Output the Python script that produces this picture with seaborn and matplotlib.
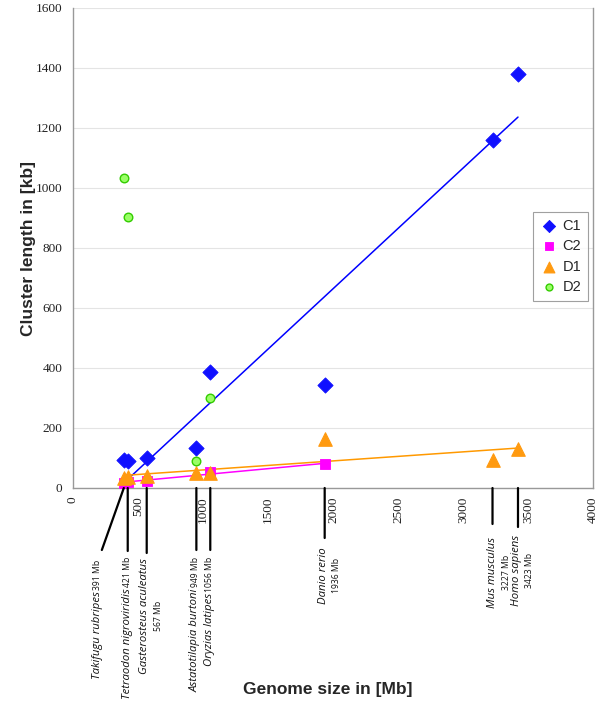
import numpy as np
import pandas as pd
import seaborn as sns
import matplotlib.pyplot as plt

# Data
species = ["Takifugu rubripes", "Tetraodon nigroviridis", "Gasterosteus aculeatus",
           "Astatotilapia burtoni", "Oryzias latipes", "Danio rerio",
           "Mus musculus", "Homo sapiens"]
genome = [391, 421, 567, 949, 1056, 1936, 3227, 3423]
size_labels = ["391 Mb", "421 Mb", "567 Mb", "949 Mb", "1056 Mb", "1936 Mb", "3227 Mb", "3423 Mb"]

c1_x = [391, 421, 567, 949, 1056, 1936, 3227, 3423]
c1_y = [95, 90, 100, 135, 388, 343, 1160, 1380]
c2_x = [391, 421, 567, 1056, 1936]
c2_y = [18, 20, 25, 52, 80]
d1_x = [391, 421, 567, 949, 1056, 1936, 3227, 3423]
d1_y = [35, 38, 40, 50, 50, 163, 95, 130]
d2_x = [391, 421, 949, 1056]
d2_y = [1035, 905, 90, 300]

sns.set_style("white")
plt.rcParams["font.family"] = ["Liberation Sans", "DejaVu Sans"]

fig = plt.figure(figsize=(6, 7.05), dpi=100)
ax = fig.add_axes([73 / 600, 1 - 488 / 705, 520 / 600, 480 / 705])

# trend lines
sns.regplot(x=c1_x, y=c1_y, ci=None, scatter=False, ax=ax, color="#0000FF", line_kws=dict(lw=1.1))
sns.regplot(x=c2_x, y=c2_y, ci=None, scatter=False, ax=ax, color="#FF00FF", line_kws=dict(lw=1.1))
sns.regplot(x=d1_x, y=d1_y, ci=None, scatter=False, ax=ax, color="#FF9900", line_kws=dict(lw=1.1))

# points
sns.scatterplot(x=c1_x, y=c1_y, ax=ax, marker="D", s=60, color="#1010FF", edgecolor="#1010FF", label="C1", zorder=3)
sns.scatterplot(x=c2_x, y=c2_y, ax=ax, marker="s", s=60, color="#FF00FF", edgecolor="#FF00FF", label="C2", zorder=3)
sns.scatterplot(x=d1_x, y=d1_y, ax=ax, marker="^", s=95, color="#FF9A10", edgecolor="#FF9A10", label="D1", zorder=3)
sns.scatterplot(x=d2_x, y=d2_y, ax=ax, marker="o", s=38, color="#99FF66", edgecolor="#33CC00", linewidth=1, label="D2", zorder=3)

ax.set_xlim(0, 4000)
ax.set_ylim(0, 1600)
ax.set_xticks(np.arange(0, 4001, 500))
ax.set_yticks(np.arange(0, 1601, 200))
ax.yaxis.grid(True, color="#e4e4e4", lw=0.8)
ax.xaxis.grid(False)
ax.set_axisbelow(True)
for side in ["left", "bottom", "right"]:
    ax.spines[side].set_color("#999999")
    ax.spines[side].set_linewidth(1)
ax.spines["top"].set_visible(False)
ax.tick_params(axis="both", direction="out", length=4, color="#999999", width=1)
ax.tick_params(axis="x", rotation=90, pad=2)
for t in ax.get_xticklabels() + ax.get_yticklabels():
    t.set_family("Liberation Serif")
    t.set_fontsize(9.5)
    t.set_color("#222222")

ax.set_xlabel("Genome size in [Mb]", fontsize=12.5, fontweight="bold", labelpad=0)
ax.xaxis.set_label_coords(0.49, -0.405)
ax.set_ylabel("Cluster length in [kb]", fontsize=12.5, fontweight="bold")
ax.yaxis.set_label_coords(-0.072, 0.5)

leg = ax.legend(loc="upper right", bbox_to_anchor=(0.99, 0.575), frameon=True, fancybox=False,
                edgecolor="#888888", fontsize=10.5, handletextpad=0.2, borderpad=0.45,
                labelspacing=0.45, handlelength=1.4, borderaxespad=0, markerscale=0.8)
leg.get_frame().set_linewidth(0.8)

# species annotations: line end offsets, label offsets (pixels)
line_end = [(-22, 62), (0, 63), (0, 65), (0, 62), (0, 62), (0, 50), (0, 36), (0, 39)]
name_dx = [-26, 0, -2, -1, -1, -1, 0, -1]
size_dx = [None, None, 12, None, None, 12, 14, 12]
text_top = [70, 67, 70, 67, 67, 59, 49, 47]

for i, g in enumerate(genome):
    ex, ey = line_end[i]
    ax.annotate("", xy=(g, 0), xytext=(ex, -ey), textcoords="offset pixels",
                arrowprops=dict(arrowstyle="-", color="black", lw=1.6, shrinkA=0, shrinkB=0),
                annotation_clip=False)

fig.canvas.draw()
renderer = fig.canvas.get_renderer()
name_font = dict(family=["Open Sans", "DejaVu Sans"], style="italic", fontsize=8.2, color="#111111")
size_font = dict(family=["Open Sans", "DejaVu Sans"], fontsize=6.2, color="#111111")

for i, g in enumerate(genome):
    if size_dx[i] is None:
        st = ax.annotate(size_labels[i], xy=(g, 0), xytext=(name_dx[i], -text_top[i] - 2),
                         textcoords="offset pixels", rotation=90, ha="center", va="top",
                         annotation_clip=False, **size_font)
        h = st.get_window_extent(renderer).height
        ax.annotate(species[i], xy=(g, 0), xytext=(name_dx[i], -text_top[i] - h - 3),
                    textcoords="offset pixels", rotation=90, ha="center", va="top",
                    annotation_clip=False, **name_font)
    else:
        nt = ax.annotate(species[i], xy=(g, 0), xytext=(name_dx[i], -text_top[i]),
                         textcoords="offset pixels", rotation=90, ha="center", va="top",
                         annotation_clip=False, **name_font)
        h = nt.get_window_extent(renderer).height
        ax.annotate(size_labels[i], xy=(g, 0), xytext=(size_dx[i], -text_top[i] - h / 2),
                    textcoords="offset pixels", rotation=90, ha="center", va="center",
                    annotation_clip=False, **size_font)

fig.savefig("out.png", dpi=100)
